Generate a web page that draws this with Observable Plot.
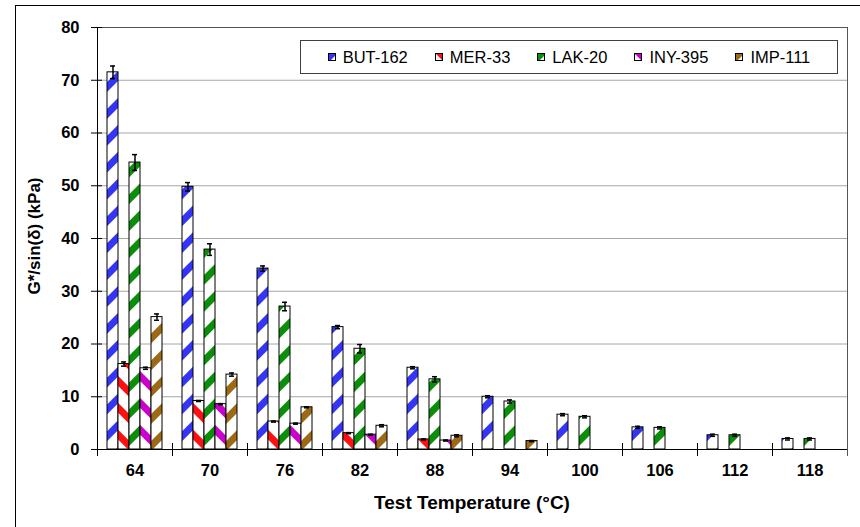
<!DOCTYPE html>
<html>
<head>
<meta charset="utf-8">
<script src="https://cdn.jsdelivr.net/npm/d3@7"></script>
<script src="https://cdn.jsdelivr.net/npm/@observablehq/plot@0.6"></script>
<style>
  html, body { margin: 0; padding: 0; background: white; }
  #wrap { position: relative; width: 860px; height: 527px; overflow: hidden; font-family: "Liberation Sans", Arial, sans-serif; }
  #outer { position: absolute; left: 15px; top: 5px; width: 860px; height: 540px; border-left: 1px solid #000; border-top: 1px solid #000; box-sizing: border-box; pointer-events: none; }
  #legend { position: absolute; left: 300px; top: 40px; width: 538px; height: 34px; border: 1px solid #404040; box-sizing: border-box; display: flex; align-items: center; justify-content: center; gap: 27px; background: white; font-size: 16.5px; }
  .item { display: flex; align-items: center; }
  .item svg { margin-right: 7px; display: block; }
  #xtitle { position: absolute; left: 472px; top: 493px; transform: translateX(-50%); font-size: 19px; font-weight: bold; line-height: 19px; white-space: nowrap; }
  #ytitle { position: absolute; left: 33.5px; top: 236px; transform: translate(-50%, -50%) rotate(-90deg); font-size: 17px; font-weight: bold; line-height: 17px; white-space: nowrap; }
</style>
</head>
<body>
<div id="wrap">
  <div id="chart"></div>
  <div id="outer"></div>
  <div id="legend"></div>
  <div id="xtitle">Test Temperature (°C)</div>
  <div id="ytitle">G*/sin(δ) (kPa)</div>
</div>
<script>
// ---- data ----
const temps = [64, 70, 76, 82, 88, 94, 100, 106, 112, 118];
const seriesNames = ["BUT-162", "MER-33", "LAK-20", "INY-395", "IMP-111"];
const but162 = [71.5, 49.8, 34.3, 23.2, 15.5, 10.0, 6.6, 4.2, 2.7, 2.0];
const mer33  = [16.2, 9.2, 5.3, 3.1, 1.9, null, null, null, null, null];
const lak20  = [54.4, 37.9, 27.1, 19.1, 13.3, 9.1, 6.2, 4.1, 2.7, 2.0];
const iny395 = [15.4, 8.6, 4.9, 2.8, 1.7, null, null, null, null, null];
const imp111 = [25.1, 14.2, 8.0, 4.5, 2.6, 1.6, null, null, null, null];
const but162Err = [1.2, 0.8, 0.5, 0.3, 0.2, 0.2, 0.2, 0.2, 0.2, 0.2];
const mer33Err  = [0.4, 0.1, 0.1, 0.1, 0.1, null, null, null, null, null];
const lak20Err  = [1.5, 1.1, 0.8, 0.8, 0.5, 0.3, 0.2, 0.2, 0.2, 0.2];
const iny395Err = [0.2, 0.1, 0.1, 0.1, 0.1, null, null, null, null, null];
const imp111Err = [0.6, 0.3, 0.1, 0.2, 0.2, 0.1, null, null, null, null];
const yTicks = [0, 10, 20, 30, 40, 50, 60, 70, 80];

const seriesValues = [but162, mer33, lak20, iny395, imp111];
const seriesErrors = [but162Err, mer33Err, lak20Err, iny395Err, imp111Err];
const colors = ["#3535f5", "#ff1010", "#0b8f0b", "#cc00cc", "#9c6a14"];
const angles = [45, -45, 45, -45, 45];

const rows = [];
seriesNames.forEach((s, si) => {
  temps.forEach((t, ti) => {
    const v = seriesValues[si][ti];
    if (v != null) rows.push({temp: t, series: s, si, value: v, err: seriesErrors[si][ti]});
  });
});

const marks = [
  Plot.ruleY(yTicks.filter(d => d > 0 && d < 80), {stroke: "#a6a6a6", strokeWidth: 1}),
];
seriesNames.forEach((s, si) => {
  marks.push(Plot.barY(rows.filter(d => d.si === si), {
    fx: "temp", x: "series", y: "value",
    fill: `url(#pat-${si})`, stroke: "#000", strokeWidth: 1
  }));
});
marks.push(
  Plot.ruleX(rows, {fx: "temp", x: "series", y1: d => d.value - d.err, y2: d => d.value + d.err, stroke: "#000", strokeWidth: 1.5}),
  Plot.tickY(rows, {fx: "temp", x: "series", y: d => d.value + d.err, insetLeft: 3, insetRight: 3, stroke: "#000", strokeWidth: 1.5}),
  Plot.tickY(rows, {fx: "temp", x: "series", y: d => d.value - d.err, insetLeft: 3, insetRight: 3, stroke: "#000", strokeWidth: 1.5}),
  Plot.ruleY([0], {stroke: "#000", strokeWidth: 1.2}),
  Plot.frame({anchor: "left", insetTop: 416, insetBottom: -6, stroke: "#000"}),
  Plot.frame({facet: "super", anchor: "top", stroke: "#555"}),
  Plot.frame({facet: "super", anchor: "right", insetBottom: -6, stroke: "#555"}),
  Plot.frame({facet: "super", anchor: "left", stroke: "#000"}),
  Plot.axisY(yTicks, {anchor: "left", tickSize: 11, dx: 5, tickFormat: () => "", label: null}),
  Plot.axisY(yTicks, {anchor: "left", tickSize: 0, tickPadding: 18, fontSize: 16.5, fontWeight: "bold", label: null}),
  Plot.axisFx({anchor: "bottom", tickSize: 0, tickPadding: 15, fontSize: 16.5, fontWeight: "bold", label: null})
);

const svg = Plot.plot({
  width: 860,
  height: 527,
  marginLeft: 96,
  marginRight: 13,
  marginTop: 27,
  marginBottom: 78,
  style: {fontFamily: "'Liberation Sans', Arial, sans-serif", color: "#000", background: "transparent", overflow: "visible"},
  fx: {domain: temps, padding: 0},
  x: {domain: seriesNames, paddingInner: 0, paddingOuter: 0.73, axis: null},
  y: {domain: [0, 80]},
  marks
});

const defs = d3.select(svg).insert("defs", ":first-child");
seriesNames.forEach((s, si) => {
  const p = defs.append("pattern")
    .attr("id", `pat-${si}`)
    .attr("patternUnits", "userSpaceOnUse")
    .attr("width", 19).attr("height", 19)
    .attr("patternTransform", `rotate(${angles[si]})`);
  p.append("rect").attr("width", 19).attr("height", 19).attr("fill", "#fff");
  p.append("rect").attr("width", 7).attr("height", 19).attr("fill", colors[si]);
});

document.getElementById("chart").appendChild(svg);

// legend
const legend = d3.select("#legend");
seriesNames.forEach((s, si) => {
  const item = legend.append("div").attr("class", "item");
  const sw = item.append("svg").attr("width", 8).attr("height", 8);
  sw.append("rect").attr("x", 0.5).attr("y", 0.5).attr("width", 7).attr("height", 7)
    .attr("fill", `url(#pat-${si})`).attr("stroke", "#000").attr("stroke-width", 1);
  item.append("span").text(s);
});
</script>
</body>
</html>
